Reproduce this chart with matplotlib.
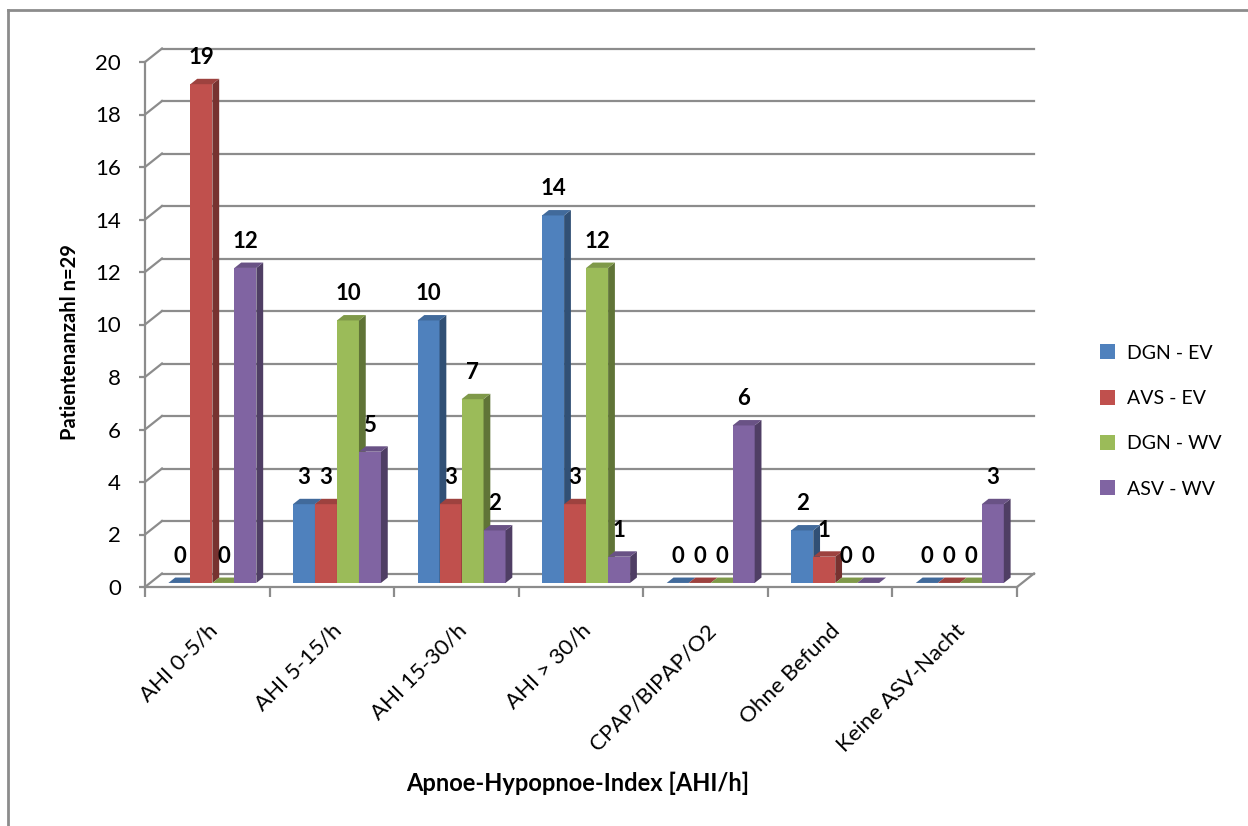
import numpy as np
import matplotlib.pyplot as plt
from matplotlib.patches import Polygon, Patch
from matplotlib.colors import to_rgb

categories = ['AHI 0-5/h', 'AHI 5-15/h', 'AHI 15-30/h', 'AHI > 30/h',
              'CPAP/BIPAP/O2', 'Ohne Befund', 'Keine ASV-Nacht']
series = ['DGN - EV', 'AVS - EV', 'DGN - WV', 'ASV - WV']
dgn_ev = [0, 3, 10, 14, 0, 2, 0]
avs_ev = [19, 3, 3, 3, 0, 1, 0]
dgn_wv = [0, 10, 7, 12, 0, 0, 0]
asv_wv = [12, 5, 2, 1, 6, 0, 3]
values = [dgn_ev, avs_ev, dgn_wv, asv_wv]
colors = ['#4F81BD', '#C0504D', '#9BBB59', '#8064A2']

plt.rcParams['font.family'] = ['Lato', 'DejaVu Sans']

W, H = 1248, 826
fig = plt.figure(figsize=(W / 100, H / 100), dpi=100)

# front plane of the plot area in pixels
x0, x1 = 145, 1017
y0, y1 = 587, 62
ax = fig.add_axes([x0 / W, 1 - y0 / H, (x1 - x0) / W, (y0 - y1) / H])
ncat = len(categories)
ax.set_xlim(0, ncat)
ax.set_ylim(0, 20)

# depth of the 3d box, converted to data units
px_x = (x1 - x0) / ncat
px_y = (y0 - y1) / 20
DX = 17 / px_x
DY = 13.5 / px_y
grid_c = '#8c8c8c'
lw = 1.6

for v in range(0, 21, 2):
    ax.plot([DX, ncat + DX], [v + DY, v + DY], color=grid_c, lw=lw, clip_on=False, zorder=1)
    ax.plot([0, DX], [v, v + DY], color=grid_c, lw=lw, clip_on=False, zorder=1)
ax.plot([ncat, ncat + DX], [0, DY], color=grid_c, lw=lw, clip_on=False, zorder=1)


def shade(c, f):
    r, g, b = to_rgb(c)
    return (r * f, g * f, b * f)


bw = 22 / px_x
dfront, dback = 0.3, 0.7
start = 0.5 - 2 * bw + dfront * DX
for i in range(ncat):
    for j, vals in enumerate(values):
        v = vals[i]
        xl = i + start + j * bw
        xr = xl + bw
        yb = dfront * DY
        yt = v + yb
        ddx = (dback - dfront) * DX
        ddy = (dback - dfront) * DY
        ax.add_patch(Polygon([(xl, yb), (xr, yb), (xr, yt), (xl, yt)],
                             closed=True, fc=colors[j], ec='none', zorder=3 + j, clip_on=False))
        ax.add_patch(Polygon([(xr, yb), (xr + ddx, yb + ddy), (xr + ddx, yt + ddy), (xr, yt)],
                             closed=True, fc=shade(colors[j], 0.62), ec='none', zorder=3 + j, clip_on=False))
        ax.add_patch(Polygon([(xl, yt), (xr, yt), (xr + ddx, yt + ddy), (xl + ddx, yt + ddy)],
                             closed=True, fc=shade(colors[j], 0.82), ec='none', zorder=3 + j, clip_on=False))
        ax.annotate(str(v), (xl + bw / 2, yt), xytext=(0, 16), textcoords='offset pixels',
                    ha='center', va='bottom', fontsize=16, fontweight='bold', zorder=10)

for s in ['top', 'right']:
    ax.spines[s].set_visible(False)
for s in ['left', 'bottom']:
    ax.spines[s].set_color(grid_c)
    ax.spines[s].set_linewidth(lw)

ax.set_yticks(range(0, 21, 2))
ax.tick_params(axis='y', length=4.3, width=lw, color=grid_c, pad=13, labelsize=16)
ax.set_xticks(range(ncat + 1))
ax.set_xticklabels([])
ax.tick_params(axis='x', which='major', length=7.2, width=lw, color=grid_c)
ax.set_xticks(np.arange(ncat) + 0.5, minor=True)
ax.set_xticklabels(categories, minor=True, rotation=45, ha='right',
                   rotation_mode='anchor', fontsize=16)
ax.tick_params(axis='x', which='minor', length=0, pad=24)
ax.patch.set_visible(False)

fig.text(70 / W, 1 - 342 / H, 'Patientenanzahl n=29', rotation=90, ha='center', va='center',
         fontsize=14.5, fontweight='bold')
fig.text(578 / W, 1 - 783 / H, 'Apnoe-Hypopnoe-Index [AHI/h]', ha='center', va='center',
         fontsize=17, fontweight='bold')

handles = [Patch(fc=c, ec='none') for c in colors]
fig.legend(handles, series, loc='center left', bbox_to_anchor=(1082 / W, 1 - 421 / H),
           frameon=False, fontsize=14, handlelength=0.8, handleheight=0.8,
           labelspacing=1.45, handletextpad=0.6)

# outer chart border
fig.add_artist(plt.Line2D([8 / W, 1], [1 - 10 / H, 1 - 10 / H], color='#8c8c8c', lw=2,
                          transform=fig.transFigure))
fig.add_artist(plt.Line2D([8 / W, 8 / W], [0, 1 - 10 / H], color='#8c8c8c', lw=2,
                          transform=fig.transFigure))

fig.savefig('out.png', dpi=100)
